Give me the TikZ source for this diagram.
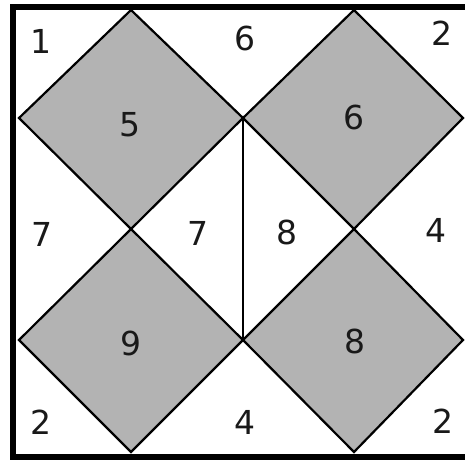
\documentclass[tikz,border=0pt]{standalone}
\usepackage{fontspec}
\setmainfont{DejaVu Sans}
\usetikzlibrary{calc}
\definecolor{tilegray}{RGB}{179,179,179}
\tikzstyle{tile} = [draw=black, line width=2.2pt, fill=tilegray, line join=miter]
\tikzstyle{divider} = [draw=black, line width=2pt]
\tikzstyle{frame} = [draw=black, line width=6pt]
\tikzstyle{num} = [font=\fontsize{33}{40}\selectfont, inner sep=0pt, text=black!90]

\begin{document}
\begin{tikzpicture}[x=1pt, y=-1pt]
\useasboundingbox (0,0) rectangle (465,460);
\clip (0,0) rectangle (465,460);

% Corner points of the four tiles
\coordinate (jtop) at (243,118);
\coordinate (jbot) at (243,340);
\coordinate (jleft) at (131,229);
\coordinate (jright) at (354,229);

% Grey tiles
\draw[tile] (131,10) -- (jtop) -- (jleft) -- (19,118) -- cycle;
\draw[tile] (354,10) -- (463,118) -- (jright) -- (jtop) -- cycle;
\draw[tile] (jleft) -- (jbot) -- (131,452) -- (19,340) -- cycle;
\draw[tile] (jright) -- (463,340) -- (354,452) -- (jbot) -- cycle;

% Vertical divider in the middle
\draw[divider] (jtop) -- (jbot);

% Outer frame
\draw[frame] (13,7) rectangle (470,457);

% Numbers inside the tiles
\node[num] (t5) at (130,125) {5};
\node[num] (t6) at (354,117) {6};
\node[num] (t9) at (131,343) {9};
\node[num] (t8) at (355,341) {8};

% Numbers in the white regions
\node[num] (w1) at (41,41) {1};
\node[num] (w6) at (245,38) {6};
\node[num] (w2a) at (442,33) {2};
\node[num] (w7a) at (42,234) {7};
\node[num] (w7b) at (198,233) {7};
\node[num] (w8) at (287,232) {8};
\node[num] (w4a) at (436,230) {4};
\node[num] (w2b) at (41,422) {2};
\node[num] (w4b) at (245,422) {4};
\node[num] (w2c) at (443,421) {2};

\end{tikzpicture}
\end{document}
